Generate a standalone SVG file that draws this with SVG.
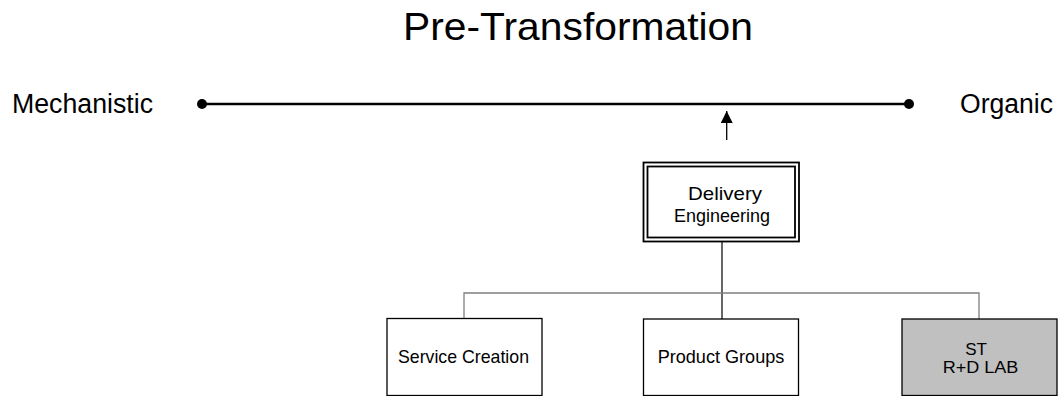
<svg xmlns="http://www.w3.org/2000/svg" width="1059" height="396" viewBox="0 0 1059 396">
<style>
text{font-family:"Liberation Sans",Arial,sans-serif;fill:#000}
.box{fill:#fff;stroke:#000;stroke-width:1.3}
.gray{fill:#c0c0c0}
.conn{fill:none;stroke:#7f7f7f;stroke-width:1.3}
.blk{fill:none;stroke:#000;stroke-width:1.2}
.lbl{font-size:19px;text-anchor:middle}
.sm{font-size:17px}
</style>
<defs>
<marker id="ah" viewBox="0 0 12 13" refX="12" refY="6" markerWidth="12" markerHeight="13" markerUnits="userSpaceOnUse" orient="auto">
<path d="M0,0 L12,6 L0,12 Z" fill="#000"/>
</marker>
</defs>
<rect width="1059" height="396" fill="#fff"/>
<text x="578" y="40" font-size="39" text-anchor="middle" textLength="350" lengthAdjust="spacingAndGlyphs">Pre-Transformation</text>
<g id="scale">
<line x1="202" y1="104" x2="909" y2="104" stroke="#000" stroke-width="2.3"/>
<circle cx="202" cy="104" r="5" fill="#000"/>
<circle cx="909" cy="104" r="5" fill="#000"/>
<text x="12" y="112.5" font-size="27" textLength="141" lengthAdjust="spacingAndGlyphs">Mechanistic</text>
<text x="960" y="112.5" font-size="27" textLength="93" lengthAdjust="spacingAndGlyphs">Organic</text>
</g>
<g id="connectors">
<line x1="726.7" y1="140" x2="726.7" y2="111" stroke="#000" stroke-width="1.3" marker-end="url(#ah)"/>
<line class="blk" x1="722" y1="241.5" x2="722" y2="319"/>
<polyline class="conn" points="464,319 464,293 979,293 979,319"/>
</g>
<g id="delivery">
<rect x="643.5" y="162.5" width="155.5" height="79" fill="#fff" stroke="#000" stroke-width="1.8"/>
<rect x="647.5" y="166.5" width="147.5" height="71" fill="none" stroke="#000" stroke-width="1.8"/>
<text class="lbl" x="725" y="200" textLength="74" lengthAdjust="spacingAndGlyphs">Delivery</text>
<text class="lbl" x="722" y="222" textLength="96" lengthAdjust="spacingAndGlyphs">Engineering</text>
</g>
<g id="service">
<rect class="box" x="387" y="318.5" width="155" height="77"/>
<text class="lbl" x="463.5" y="363.3" textLength="131" lengthAdjust="spacingAndGlyphs">Service Creation</text>
</g>
<g id="product">
<rect class="box" x="643.5" y="319" width="155" height="76.5"/>
<text class="lbl" x="721" y="363.3" textLength="126.7" lengthAdjust="spacingAndGlyphs">Product Groups</text>
</g>
<g id="st">
<rect class="box gray" x="902" y="319" width="155" height="76.5"/>
<text class="lbl sm" x="976" y="354.5">ST</text>
<text class="lbl sm" x="980.5" y="373" textLength="75.6" lengthAdjust="spacingAndGlyphs">R+D LAB</text>
</g>
</svg>
